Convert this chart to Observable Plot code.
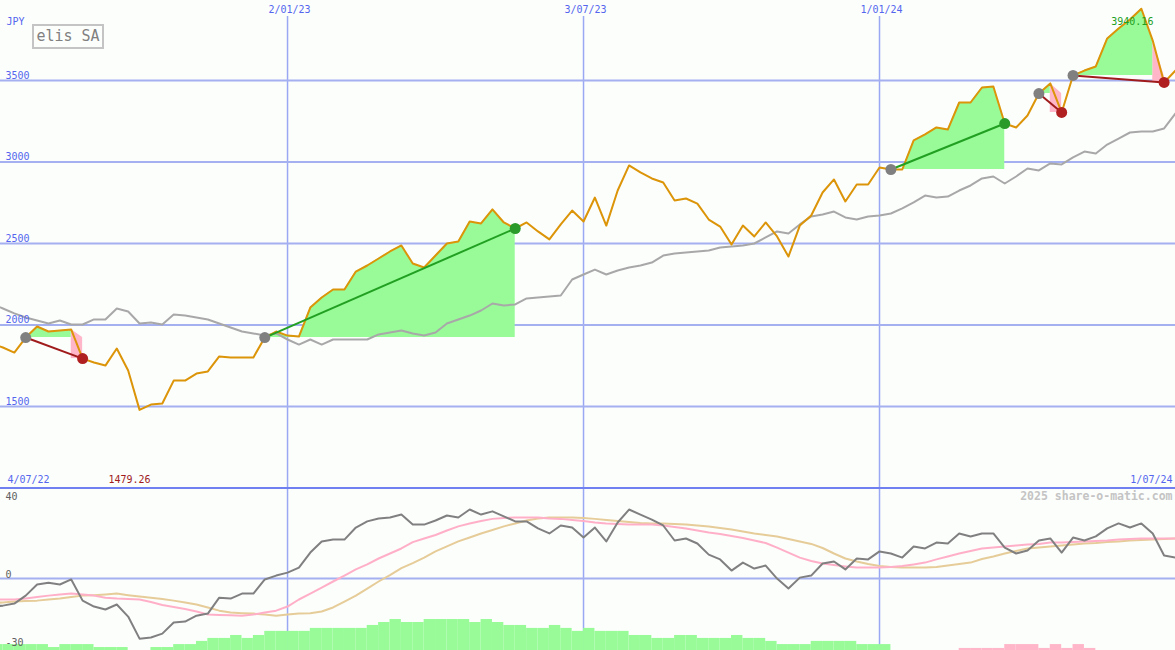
<!DOCTYPE html>
<html><head><meta charset="utf-8">
<script src="https://cdn.jsdelivr.net/npm/d3@7"></script>
<script src="https://cdn.jsdelivr.net/npm/@observablehq/plot@0.6"></script>
<style>
html,body{margin:0;padding:0;background:#fcfefc;overflow:hidden;}
#wrap{position:relative;width:1175px;height:650px;}
#wrap svg{display:block;}
#title{position:absolute;left:32px;top:24px;width:68px;height:21px;border:2px solid #c4c4c4;font:15px "DejaVu Sans Mono",monospace;color:#808080;line-height:21px;text-align:center;z-index:2;}
</style></head><body>
<div id="wrap"><div id="title">elis SA</div></div>
<script>
// ---- data (weekly, from 4/07/22) ----
const startDate = "2022-07-04";
const price = [
 1886,1862,1831,1923,1991,1960,1966,1972,1794,1770,
 1751,1856,1721,1479.26,1512,1518,1659,1659,1702,1715,
 1807,1801,1801,1801,1923,1960,1935,1929,2107,2169,
 2218,2218,2328,2365,2408,2451,2488,2377,2353,2426,
 2500,2512,2635,2623,2709,2629,2592,2629,2574,2525,
 2617,2702,2635,2782,2610,2825,2979,2936,2899,2874,
 2764,2776,2745,2647,2604,2494,2610,2543,2629,2543,
 2420,2610,2672,2813,2893,2758,2862,2862,2966,2954,
 2954,3132,3169,3212,3199,3365,3365,3457,3463,3236,
 3212,3285,3420,3482,3304,3531,3561,3586,3758,3819,
 3874,3940.16,3745,3488,3561];
const bench = [
 2132,2101,2071,2046,2028,2009,2028,2003,2003,2034,
 2034,2101,2083,2009,2015,2003,2064,2058,2046,2034,
 2009,1985,1960,1948,1936,1948,1911,1880,1911,1880,
 1911,1911,1911,1911,1942,1954,1966,1948,1936,1954,
 2009,2034,2058,2089,2132,2120,2126,2163,2169,2175,
 2181,2279,2310,2340,2310,2334,2353,2365,2383,2426,
 2439,2445,2451,2457,2475,2482,2488,2500,2537,2574,
 2561,2617,2666,2678,2696,2660,2647,2666,2672,2684,
 2715,2752,2794,2782,2788,2825,2856,2899,2911,2868,
 2911,2960,2948,2991,2985,3028,3064,3052,3107,3144,
 3181,3187,3187,3206,3298];
const momentum = [
 -12.3,-11.9,-11.0,-7.5,-2.6,-1.8,-2.6,-0.4,-9.7,-12.3,
 -13.6,-11.4,-16.7,-26.4,-25.9,-24.2,-19.3,-18.9,-16.3,-15.4,
 -8.4,-8.8,-6.6,-6.6,-0.4,1.3,2.6,4.8,11.4,16.3,
 17.1,17.1,22.4,25.1,26.4,26.8,28.1,23.7,23.7,25.5,
 27.7,26.8,30.3,28.1,29.5,27.3,25.1,25.1,22.0,19.8,
 23.3,22.4,18.0,22.4,16.3,24.6,30.3,28.1,25.9,23.3,
 16.7,17.6,15.4,10.5,8.4,3.5,7.0,4.4,5.7,0,
 -4.4,0.4,1.3,6.6,7.5,4.0,8.8,8.4,11.9,11.0,
 9.2,14.1,13.2,15.8,15.4,19.8,18.5,19.8,19.8,13.6,
 11.0,12.3,16.7,17.6,11.4,18.0,16.7,18.5,22.0,24.2,
 22.4,24.2,19.8,10.1,9.2];
const avgFast = [
 -9.2,-9.2,-9.2,-8.8,-8.1,-7.5,-7.0,-6.6,-7.0,-7.5,
 -8.4,-8.8,-9.0,-9.2,-10.3,-11.6,-12.5,-13.4,-14.5,-15.8,
 -16.0,-16.1,-16.3,-15.8,-14.9,-14.1,-12.3,-9.2,-6.6,-4.0,
 -1.3,1.3,4.0,6.2,8.8,11.0,13.2,16.0,17.6,19.1,
 21.1,22.9,24.2,25.3,26.2,26.6,26.8,26.8,26.8,26.4,
 26.2,25.7,25.3,24.6,24.2,24.0,23.7,23.7,23.7,23.3,
 22.6,22.0,21.1,20.2,19.6,18.7,17.8,16.7,15.6,13.6,
 11.4,9.2,7.7,6.6,5.9,5.3,4.8,4.8,4.8,5.1,
 5.5,6.2,7.0,8.4,9.7,11.0,12.1,13.2,13.6,14.1,
 14.5,14.9,15.2,15.8,15.8,16.0,16.3,16.5,16.7,17.1,
 17.4,17.6,17.6,17.6,17.6];
const avgSlow = [
 -10.8,-10.5,-10.1,-9.9,-9.7,-9.2,-8.8,-8.1,-7.5,-7.3,
 -7.0,-6.6,-7.3,-7.9,-8.4,-9.0,-9.7,-10.5,-11.4,-12.7,
 -14.1,-14.9,-15.2,-15.4,-15.8,-16.3,-15.8,-15.4,-15.2,-14.5,
 -12.7,-10.1,-7.5,-4.4,-1.3,1.5,4.6,6.8,9.2,11.9,
 14.1,16.3,18.0,19.8,21.3,22.9,24.2,25.5,26.4,26.8,
 26.8,26.8,26.6,26.2,25.7,25.3,24.8,24.4,24.2,24.2,
 24.0,23.7,23.3,22.9,22.2,21.5,20.7,19.8,19.1,18.5,
 17.4,16.3,15.2,13.4,11.0,8.8,7.5,6.4,5.5,5.1,
 4.8,4.8,4.8,5.1,5.7,6.4,7.0,8.6,9.7,11.0,
 12.1,13.2,13.6,14.1,14.5,14.9,15.4,15.6,16.0,16.3,
 16.7,16.9,17.1,17.4,17.6];
const histo = [
 2.6,2.6,2.6,2.6,2.6,1.3,2.6,2.6,2.6,1.3,
 1.3,1.3,0,0,1.3,1.3,2.6,2.6,4.0,5.3,
 5.3,6.6,5.3,6.6,8.4,8.4,8.4,8.4,9.7,9.7,
 9.7,9.7,9.7,11.0,12.3,13.6,12.3,12.3,13.6,13.6,
 13.6,13.6,12.3,13.6,12.3,11.0,11.0,9.7,9.7,11.0,
 9.7,8.4,9.7,8.4,8.4,8.4,6.6,6.6,5.3,5.3,
 6.6,6.6,5.3,5.3,5.3,6.6,5.3,5.3,4.0,2.6,
 2.6,2.6,4.0,4.0,4.0,4.0,2.6,2.6,2.6,0,
 0,0,0,0,0,-0.9,-0.9,-0.9,-0.9,-2.6,
 -2.6,-2.6,-0.9,-2.6,-0.9,-2.6,-0.9,0,0,0,
 0,0,0,0,0];
const sigStart = [3, 24, 79, 92, 95];
const sigEnd   = [8, 46, 89, 94, 103];
const priceTicks = [1500, 2000, 2500, 3000, 3500];
const dateTicks = ["2023-01-02", "2023-07-03", "2024-01-01"];
const lowTicks = [0, -30];
const lowTop = 40;
const currency = "JPY";
const watermark = "2025 share-o-matic.com";

// ---- build ----
const fmt = d3.utcFormat("%-d/%m/%y");
const t0 = new Date(startDate + "T00:00:00Z");
const N = price.length;
const dates = d3.range(N).map(i => d3.utcDay.offset(t0, 7 * i));
const rows = dates.map((d, i) => ({date: d, next: d3.utcDay.offset(d, 7), price: price[i], bench: bench[i],
  mom: momentum[i], fast: avgFast[i], slow: avgSlow[i], h: histo[i]}));
const xDomain = [new Date("2022-07-09T12:00:00Z"), new Date("2024-07-01T00:00:00Z")];
const yDomain = [990.8, 3990.8];
const lowDomain = [-31.6, 39.1];
const xt = dateTicks.map(s => new Date(s + "T00:00:00Z"));

const signals = sigStart.map((s, k) => {
  const e = sigEnd[k];
  return {k, s, e, base: price[s], win: price[e] > price[s],
    x1: dates[s], y1: price[s], x2: dates[e], y2: price[e]};
});
const greenRows = signals.flatMap(sg => d3.range(sg.s, (sg.win ? sg.e : sg.e - 1) + 1)
  .map(i => ({k: sg.k, date: dates[i], base: sg.base, top: Math.max(price[i], sg.base)})));
const losses = signals.filter(sg => !sg.win);
const pinkRows = losses.map(sg => ({x1: dates[sg.e - 1], x2: dates[sg.e], y1: sg.base, y2: price[sg.e]}));
const pinkTri = losses.flatMap(sg => [sg.e - 1, sg.e]
  .map(i => ({k: sg.k, date: dates[i], base: sg.base, top: Math.max(price[i], sg.base)})));

const minRow = d3.least(rows, d => d.price);
const maxRow = d3.greatest(rows, d => d.price);

const gridC = "#a4b0f0";
const vGridC = "#9aa8f4";
const blue = "#5566ee";
const font = "'DejaVu Sans Mono', monospace";

const upper = Plot.plot({
  width: 1175, height: 489, margin: 0,
  x: {type: "utc", domain: xDomain, axis: null},
  y: {domain: yDomain, axis: null},
  style: {background: "transparent", fontFamily: font, fontSize: "10px", overflow: "hidden"},
  marks: [
    Plot.ruleX(xt, {x: d => d, stroke: vGridC, strokeWidth: 1.5, insetTop: 16}),
    Plot.ruleY(priceTicks, {y: d => d, stroke: gridC, strokeWidth: 2}),
    Plot.areaY(pinkTri, {x: "date", y1: "base", y2: "top", z: "k", fill: "#ffb6c8"}),
    Plot.rect(pinkRows, {x1: "x1", x2: "x2", y1: "y1", y2: "y2", fill: "#ffb6c8"}),
    Plot.areaY(greenRows, {x: "date", y1: "base", y2: "top", z: "k", fill: "#98fb98"}),
    Plot.lineY(rows, {x: "date", y: "bench", stroke: "#a8a8a8", strokeWidth: 2, clip: true}),
    Plot.lineY(rows, {x: "date", y: "price", stroke: "#dc9408", strokeWidth: 2, clip: true}),
    Plot.link(signals.filter(d => d.win), {x1: "x1", y1: "y1", x2: "x2", y2: "y2", stroke: "#22a022", strokeWidth: 2}),
    Plot.link(losses, {x1: "x1", y1: "y1", x2: "x2", y2: "y2", stroke: "#a01c1c", strokeWidth: 2}),
    Plot.dot(signals, {x: "x1", y: "y1", r: 5.5, fill: "#808080"}),
    Plot.dot(signals.filter(d => d.win), {x: "x2", y: "y2", r: 5.5, fill: "#2a9a2a"}),
    Plot.dot(losses, {x: "x2", y: "y2", r: 5.5, fill: "#b02020"}),
    Plot.ruleY([yDomain[0] + 9.2], {stroke: "#7080f0", strokeWidth: 2}),
    Plot.text(priceTicks, {y: d => d, text: d => String(d), frameAnchor: "left", dx: 5, dy: -5, textAnchor: "start", lineAnchor: "middle", fill: blue}),
    Plot.text(xt, {x: d => d, text: d => fmt(d), frameAnchor: "top", dy: 9, dx: 2, lineAnchor: "middle", fill: blue}),
    Plot.text([currency], {text: d => d, frameAnchor: "top-left", dx: 6, dy: 21, textAnchor: "start", lineAnchor: "middle", fill: blue}),
    Plot.text([dates[0]], {text: d => fmt(d), frameAnchor: "bottom-left", dx: 7, dy: -10, textAnchor: "start", lineAnchor: "middle", fill: blue}),
    Plot.text([dates[N - 1]], {text: d => fmt(d), frameAnchor: "bottom-right", dx: -3, dy: -10, textAnchor: "end", lineAnchor: "middle", fill: blue}),
    Plot.text([minRow], {x: "date", text: d => d.price.toFixed(2), frameAnchor: "bottom", dy: -10, dx: -10, lineAnchor: "middle", fill: "#a01c1c"}),
    Plot.text([maxRow], {x: "date", text: d => d.price.toFixed(2), frameAnchor: "top", dy: 21, dx: -9, lineAnchor: "middle", fill: "#22a022"})
  ]
});

const lower = Plot.plot({
  width: 1175, height: 161, margin: 0,
  x: {type: "utc", domain: xDomain, axis: null},
  y: {domain: lowDomain, axis: null},
  style: {background: "transparent", fontFamily: font, fontSize: "10px", overflow: "hidden"},
  marks: [
    Plot.ruleX(xt, {x: d => d, stroke: vGridC, strokeWidth: 1.5}),
    Plot.ruleY([0], {stroke: gridC, strokeWidth: 2}),
    Plot.rect(rows.filter(d => d.h > 0), {x1: "date", x2: "next", y1: lowDomain[0], y2: d => lowDomain[0] + d.h, fill: "#98fb98"}),
    Plot.rect(rows.filter(d => d.h < 0), {x1: "date", x2: "next", y1: lowDomain[0], y2: d => lowDomain[0] - d.h, fill: "#ffb6c8"}),
    Plot.lineY(rows, {x: "date", y: "slow", stroke: "#e6cc98", strokeWidth: 2, clip: true}),
    Plot.lineY(rows, {x: "date", y: "fast", stroke: "#ffb0c8", strokeWidth: 2, clip: true}),
    Plot.lineY(rows, {x: "date", y: "mom", stroke: "#808080", strokeWidth: 2, clip: true}),
    Plot.text(lowTicks, {y: d => d, text: d => String(d), frameAnchor: "left", dx: 5, dy: -4, textAnchor: "start", lineAnchor: "middle", fill: "#606060"}),
    Plot.text([lowTop], {text: d => String(d), frameAnchor: "top-left", dx: 5, dy: 7, textAnchor: "start", lineAnchor: "middle", fill: "#606060"}),
    Plot.text([watermark], {text: d => d, frameAnchor: "top-right", dx: -3, dy: 7, textAnchor: "end", lineAnchor: "middle", fill: "#c4c4c4", fontWeight: "bold", fontSize: 11.5})
  ]
});

const wrap = document.getElementById("wrap");
wrap.appendChild(upper);
wrap.appendChild(lower);
</script>
</body></html>
